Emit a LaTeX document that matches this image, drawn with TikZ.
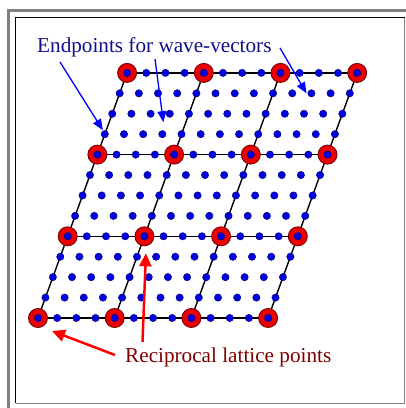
\documentclass[tikz,border=0pt]{standalone}
\usepackage{fontspec}
\setmainfont{Liberation Serif}
\usetikzlibrary{arrows.meta, calc}
\definecolor{latticered}{RGB}{235, 0, 0}
\definecolor{latticedark}{RGB}{120, 0, 0}
\definecolor{dotblue}{RGB}{0, 0, 225}
\definecolor{dotnavy}{RGB}{0, 0, 110}
\definecolor{labelnavy}{RGB}{16, 16, 140}
\definecolor{labelred}{RGB}{128, 0, 0}
\definecolor{framegray}{RGB}{128, 128, 128}
\tikzset{
  lattice point/.style={
    circle,
    draw=latticedark,
    fill=latticered,
    line width=0.9pt,
    minimum size=19pt,
    inner sep=0pt
  },
  wave point/.style={
    circle,
    draw=dotnavy,
    fill=dotblue,
    line width=0.4pt,
    minimum size=7.4pt,
    inner sep=0pt
  },
  cell edge/.style={
    draw=black,
    line width=1.4pt
  },
  label text/.style={
    font=\fontsize{21.2}{24}\selectfont,
    inner sep=0pt,
    anchor=base west
  },
  blue pointer/.style={
    -{Triangle[length=11pt, width=9pt]},
    draw=blue,
    line width=1.3pt
  },
  red pointer/.style={
    -{Triangle[length=13pt, width=12pt]},
    draw=red,
    line width=2.5pt
  }
}

\begin{document}
\begin{tikzpicture}[x=1pt, y=-1pt]
  \useasboundingbox (0,0) rectangle (406,408);
  % frame
  \draw[framegray, line width=3pt] (8.5,408) -- (8.5,10.5) -- (406,10.5);
  \draw[black, line width=1pt] (15.5,403) -- (15.5,17.5) -- (404.5,17.5);
  \draw[framegray, line width=1pt] (15.5,403.5) -- (404.5,403.5) -- (404.5,17.5);

  % reciprocal lattice
  \foreach \i in {0,...,3}
    \foreach \j in {0,...,3}
      \coordinate (L-\i-\j) at ({38+76.7*\i+29.7*\j}, {318-81.7*\j});
  \foreach \k in {0,...,3} {
    \path[cell edge] (L-0-\k) -- (L-3-\k);
    \path[cell edge] (L-\k-0) -- (L-\k-3);
  }
  \foreach \i in {0,...,3}
    \foreach \j in {0,...,3}
      \node[lattice point] (R-\i-\j) at (L-\i-\j) {};

  % wave-vector endpoints
  \foreach \i in {0,...,12}
    \foreach \j in {0,...,12}
      \node[wave point] (w-\i-\j) at ({38+19.175*\i+7.425*\j}, {318-20.425*\j}) {};

  % labels
  \node[label text, text=labelnavy] (endpoints) at (37,52) {Endpoints for wave-vectors};
  \node[label text, text=labelred] (reciprocal) at (125,362) {Reciprocal lattice points};

  \coordinate (b1) at (60,62);
  \coordinate (b2) at (155,59);
  \coordinate (b3) at (280,48);
  \coordinate (r1) at (115,355);
  \coordinate (r2) at (142.5,342);
  \coordinate (b1-tip) at ($(w-0-9)+(-2,-4)$);
  \coordinate (b2-tip) at ($(w-3-9)+(1,-12)$);
  \coordinate (b3-tip) at ($(w-10-11)+(-5,0)$);
  \coordinate (r1-tip) at ($(R-0-0)+(14,13)$);
  \coordinate (r2-tip) at ($(R-1-1)+(1.5,17)$);

  \draw[blue pointer] (b1) -- (b1-tip);
  \draw[blue pointer] (b2) -- (b2-tip);
  \draw[blue pointer] (b3) -- (b3-tip);
  \draw[red pointer] (r1) -- (r1-tip);
  \draw[red pointer] (r2) -- (r2-tip);
\end{tikzpicture}
\end{document}
